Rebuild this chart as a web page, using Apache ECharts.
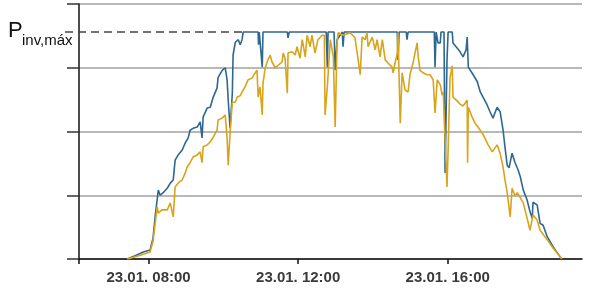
<!DOCTYPE html>
<html><head><meta charset="utf-8">
<script src="https://cdn.jsdelivr.net/npm/echarts@6/dist/echarts.min.js"></script>
<style>html,body{margin:0;padding:0;background:#fff}#c{width:591px;height:290px}</style>
</head><body><div id="c"></div>
<script>
const xTickHours = [8, 12, 16];
const xMin = 6.14, xMax = 19.59;
const pMax = 3.56;
const pLabelMain = 'P';
const pLabelSub = 'inv,máx';

const blueTimes = [7.43,7.64,7.86,8.04,8.12,8.18,8.23,8.26,8.31,8.39,8.50,8.58,8.66,8.71,8.79,8.90,8.98,9.06,9.11,9.19,9.30,9.38,9.43,9.46,9.57,9.65,9.73,9.83,9.86,9.97,10.05,10.10,10.13,10.18,10.24,10.26,10.32,10.37,10.40,10.45,10.50,10.53,10.93,10.94,10.96,11.01,11.04,11.06,11.71,11.73,11.76,12.75,12.78,12.80,12.96,12.99,13.04,13.12,13.18,13.20,13.23,14.65,14.67,14.70,14.89,14.91,14.94,15.64,15.66,15.69,15.74,15.80,15.82,15.90,15.93,15.98,16.01,16.12,16.14,16.25,16.33,16.41,16.49,16.52,16.55,16.60,16.68,16.79,16.87,16.95,17.05,17.13,17.21,17.32,17.40,17.48,17.53,17.59,17.64,17.72,17.80,17.88,17.94,18.02,18.12,18.20,18.26,18.28,18.39,18.47,18.55,18.66,18.82,19.01,19.05];
const blueValues = [0,0.05,0.11,0.14,0.33,0.69,0.93,1.08,1.00,1.04,1.11,1.19,1.24,1.55,1.63,1.71,1.82,1.90,2.02,2.05,2.07,2.15,1.90,2.23,2.37,2.38,2.54,2.68,2.85,2.96,3.00,2.81,2.49,2.05,2.60,3.20,3.40,3.39,3.44,3.36,3.44,3.56,3.56,3.36,3.56,3.56,3.01,3.56,3.56,3.47,3.56,3.56,3.01,3.56,3.56,2.96,3.44,3.51,3.56,3.33,3.56,3.56,3.12,3.56,3.56,3.44,3.56,3.56,3.01,3.56,3.39,3.39,3.56,3.56,1.35,3.12,3.56,3.56,3.39,3.31,3.25,3.17,3.28,3.48,3.01,3.04,2.89,2.78,2.62,2.53,2.42,2.31,2.21,2.38,2.31,2.02,1.76,1.47,1.43,1.66,1.51,1.40,1.29,1.08,0.93,0.74,0.64,0.89,0.85,0.56,0.53,0.35,0.19,0.03,0];

const goldTimes = [7.43,7.78,8.04,8.12,8.23,8.26,8.36,8.50,8.58,8.63,8.66,8.71,8.79,8.90,8.98,9.03,9.11,9.19,9.30,9.38,9.43,9.46,9.57,9.65,9.73,9.83,9.86,9.97,10.05,10.10,10.13,10.18,10.24,10.32,10.37,10.45,10.50,10.58,10.66,10.77,10.85,10.90,10.93,10.98,11.04,11.06,11.12,11.17,11.25,11.30,11.39,11.47,11.57,11.60,11.65,11.71,11.73,11.84,11.92,11.97,12.05,12.11,12.19,12.24,12.32,12.37,12.45,12.53,12.64,12.70,12.72,12.78,12.86,12.94,12.99,13.04,13.07,13.20,13.39,13.52,13.66,13.71,13.79,13.84,13.87,13.98,14.06,14.11,14.19,14.25,14.33,14.41,14.51,14.54,14.59,14.65,14.67,14.73,14.78,14.86,14.94,14.99,15.07,15.18,15.21,15.26,15.34,15.45,15.53,15.61,15.66,15.72,15.80,15.85,15.88,15.93,15.98,16.01,16.06,16.12,16.14,16.25,16.33,16.41,16.52,16.53,16.55,16.65,16.73,16.81,16.95,17.08,17.19,17.32,17.40,17.48,17.53,17.59,17.67,17.72,17.80,17.86,18.02,18.20,18.28,18.39,18.47,18.66,18.82,19.01,19.05];
const goldValues = [0,0.06,0.11,0.28,0.82,0.72,0.77,0.77,0.88,0.89,0.66,1.13,1.19,1.24,1.35,1.44,1.51,1.60,1.63,1.68,1.51,1.76,1.79,1.84,1.91,2.02,2.18,2.21,2.26,1.90,1.47,1.98,2.46,2.46,2.54,2.56,2.62,2.70,2.81,2.84,2.92,2.96,2.54,2.70,2.26,2.76,3.00,3.09,3.20,3.09,3.00,3.04,3.09,3.23,3.15,2.60,3.23,3.25,3.20,3.33,3.15,3.44,3.17,3.51,3.33,3.51,3.23,3.44,3.51,3.51,2.26,2.70,3.44,3.17,2.07,3.39,3.55,3.51,3.55,3.47,2.89,3.48,3.44,3.55,3.33,3.48,3.28,3.44,3.17,3.44,3.12,3.07,3.01,2.92,3.07,3.23,3.55,2.13,2.92,2.65,2.62,2.89,3.07,3.39,3.17,2.96,2.92,2.89,2.89,2.81,2.29,2.81,2.73,2.57,2.62,1.87,1.13,1.71,2.84,3.03,2.54,2.48,2.43,2.40,2.49,1.51,2.38,2.23,2.13,2.07,1.95,1.79,1.68,1.79,1.66,1.44,1.24,1.04,0.66,1.11,0.99,1.04,0.88,0.45,0.69,0.61,0.45,0.30,0.17,0.03,0];

const pair = (t, v) => t.map((x, i) => [x, v[i]]);
const chart = echarts.init(document.getElementById('c'), null, {renderer: 'canvas'});
const fmt = h => '23.01. ' + String(Math.round(h)).padStart(2, '0') + ':00';

chart.setOption({
  animation: false,
  grid: {left: 79, right: 9, top: 4, bottom: 31},
  xAxis: {
    type: 'value', min: xMin, max: xMax,
    axisLine: {onZero: false, lineStyle: {color: '#111', width: 1.5}},
    axisTick: {customValues: [xMin].concat(xTickHours), length: 5, lineStyle: {color: '#111', width: 1.5}},
    axisLabel: {customValues: xTickHours, formatter: fmt, margin: 11,
      fontFamily: 'Liberation Sans', fontWeight: 'bold', fontSize: 15, color: '#3a3a3a'},
    splitLine: {show: false}
  },
  yAxis: {
    type: 'value', min: 0, max: 4, interval: 1,
    axisLine: {show: true, lineStyle: {color: '#111', width: 1.5}},
    axisTick: {show: true, length: 12, lineStyle: {color: '#333', width: 1.5}},
    axisLabel: {show: false},
    splitLine: {lineStyle: {color: '#b8b8b8', width: 2}}
  },
  series: [
    {type: 'line', data: pair(blueTimes, blueValues), showSymbol: false, symbol: 'none',
     lineStyle: {color: '#2e6890', width: 1.6}, z: 3},
    {type: 'line', data: pair(goldTimes, goldValues), showSymbol: false, symbol: 'none',
     lineStyle: {color: '#d8a41c', width: 1.6}, z: 4}
  ]
});

const yPx = chart.convertToPixel({yAxisIndex: 0}, pMax);
const firstMaxIdx = blueValues.findIndex(v => v >= pMax);
const xEnd = chart.convertToPixel({xAxisIndex: 0}, blueTimes[firstMaxIdx]);
const xStart = chart.convertToPixel({xAxisIndex: 0}, xMin) - 14;
chart.setOption({
  graphic: [
    {type: 'line', z: 2, shape: {x1: xStart, y1: yPx, x2: xEnd, y2: yPx},
     style: {stroke: '#444', lineWidth: 1.5, lineDash: [8, 5]}},
    {type: 'text', z: 1, style: {text: pLabelMain, x: 8, y: yPx - 1, font: '22px "Liberation Sans"', verticalAlign: 'middle', fill: '#111'}},
    {type: 'text', z: 1, style: {text: pLabelSub, x: 22, y: yPx + 9, font: '15px "Liberation Sans"', verticalAlign: 'middle', fill: '#111'}}
  ]
});
</script></body></html>
